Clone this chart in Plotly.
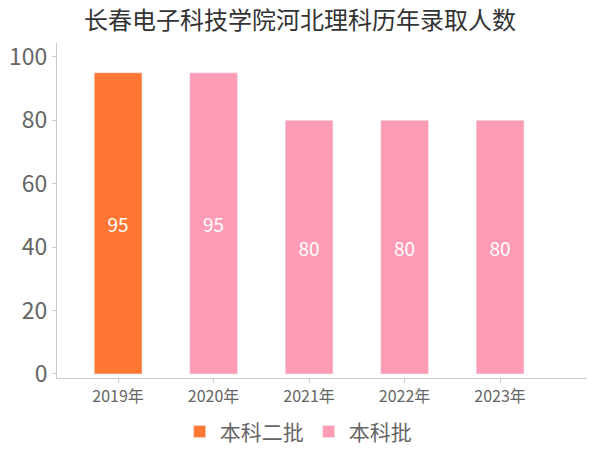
import plotly.graph_objects as go

years = ["2019年", "2020年", "2021年", "2022年", "2023年"]
erpi = [95, None, None, None, None]      # 本科二批
benke = [None, 95, 80, 80, 80]          # 本科批

font = "Noto Sans CJK SC, DejaVu Sans, sans-serif"

fig = go.Figure()
fig.add_trace(go.Bar(x=years, y=erpi, name="本科二批", marker_color="#ff7733",
                     width=0.5, text=erpi, textposition="inside",
                     insidetextanchor="middle",
                     textfont=dict(color="white", size=19)))
fig.add_trace(go.Bar(x=years, y=benke, name="本科批", marker_color="#ff9cb5",
                     width=0.5, text=benke, textposition="inside",
                     insidetextanchor="middle",
                     textfont=dict(color="white", size=19)))

fig.update_layout(
    width=600, height=450,
    barmode="relative",
    plot_bgcolor="white", paper_bgcolor="white",
    font=dict(family=font, color="#666666"),
    title=dict(text="长春电子科技学院河北理科历年录取人数", x=0.5, xanchor="center",
               y=0.955, yanchor="middle", automargin=False,
               font=dict(size=24, color="#333333")),
    margin=dict(l=57, r=13, t=43, b=72, autoexpand=False),
    legend=dict(orientation="h", x=0.455, xanchor="center", y=-0.161, yanchor="middle",
                font=dict(size=21, color="#666666"), itemwidth=30,
                traceorder="normal"),
)
fig.update_xaxes(range=[-0.64, 4.91], showline=True, linecolor="#cccccc",
                 ticks="outside", ticklen=4, tickcolor="#cccccc", automargin=False,
                 tickfont=dict(size=16, color="#666666"), showgrid=False)
fig.update_yaxes(range=[-1.3, 104.4], showline=True, linecolor="#cccccc",
                 ticks="outside", ticklen=4, tickcolor="#cccccc", dtick=20,
                 automargin=False,
                 tickfont=dict(size=23, color="#666666"), showgrid=False,
                 zeroline=False)

# the page has a default 8px body margin; drop it so the figure sits at 0,0
fig.write_html("out.html", config={"displayModeBar": False},
               post_script="document.body.style.margin='0';")
